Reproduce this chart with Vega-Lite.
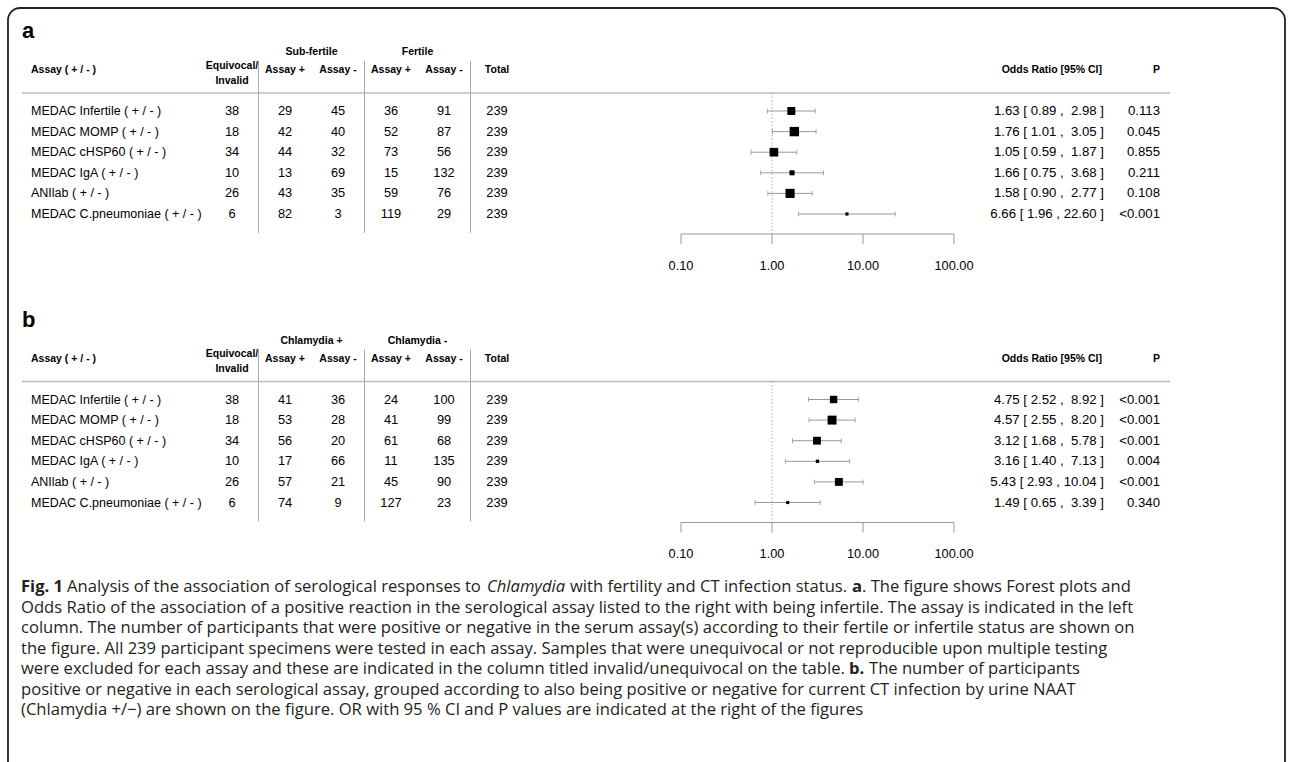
{
  "$schema": "https://vega.github.io/schema/vega-lite/v6.json",
  "width": 1277,
  "height": 770,
  "autosize": {"type": "none"},
  "padding": {"left": 8, "top": 8, "right": 7, "bottom": 0},
  "background": "white",
  "config": {
    "view": {"stroke": "#222222", "strokeWidth": 1.8, "cornerRadius": 12},
    "axis": {"disable": true},
    "legend": {"disable": true},
    "text": {"font": "Liberation Sans", "fontSize": 12.8, "color": "#000000"}
  },
  "resolve": {"scale": {"x": "independent", "y": "independent", "size": "independent"}},
  "datasets": {
    "tab": [
      {"panel": "a", "row": 1, "assay": "MEDAC Infertile ( + / - )", "equiv": 38, "sp": 29, "sn": 45, "fp": 36, "fn": 91, "total": 239, "or": 1.63, "lo": 0.89, "hi": 2.98, "w": 10.5, "ci": "1.63 [ 0.89 , \u00a02.98 ]", "p": "0.113"},
      {"panel": "a", "row": 2, "assay": "MEDAC MOMP ( + / - )", "equiv": 18, "sp": 42, "sn": 40, "fp": 52, "fn": 87, "total": 239, "or": 1.76, "lo": 1.01, "hi": 3.05, "w": 12.6, "ci": "1.76 [ 1.01 , \u00a03.05 ]", "p": "0.045"},
      {"panel": "a", "row": 3, "assay": "MEDAC cHSP60 ( + / - )", "equiv": 34, "sp": 44, "sn": 32, "fp": 73, "fn": 56, "total": 239, "or": 1.05, "lo": 0.59, "hi": 1.87, "w": 11.5, "ci": "1.05 [ 0.59 , \u00a01.87 ]", "p": "0.855"},
      {"panel": "a", "row": 4, "assay": "MEDAC IgA ( + / - )", "equiv": 10, "sp": 13, "sn": 69, "fp": 15, "fn": 132, "total": 239, "or": 1.66, "lo": 0.75, "hi": 3.68, "w": 6.07, "ci": "1.66 [ 0.75 , \u00a03.68 ]", "p": "0.211"},
      {"panel": "a", "row": 5, "assay": "ANIlab ( + / - )", "equiv": 26, "sp": 43, "sn": 35, "fp": 59, "fn": 76, "total": 239, "or": 1.58, "lo": 0.90, "hi": 2.77, "w": 12.2, "ci": "1.58 [ 0.90 , \u00a02.77 ]", "p": "0.108"},
      {"panel": "a", "row": 6, "assay": "MEDAC C.pneumoniae ( + / - )", "equiv": 6, "sp": 82, "sn": 3, "fp": 119, "fn": 29, "total": 239, "or": 6.66, "lo": 1.96, "hi": 22.60, "w": 2.57, "ci": "6.66 [ 1.96 , 22.60 ]", "p": "<0.001"},
      {"panel": "b", "row": 1, "assay": "MEDAC Infertile ( + / - )", "equiv": 38, "sp": 41, "sn": 36, "fp": 24, "fn": 100, "total": 239, "or": 4.75, "lo": 2.52, "hi": 8.92, "w": 9.62, "ci": "4.75 [ 2.52 , \u00a08.92 ]", "p": "<0.001"},
      {"panel": "b", "row": 2, "assay": "MEDAC MOMP ( + / - )", "equiv": 18, "sp": 53, "sn": 28, "fp": 41, "fn": 99, "total": 239, "or": 4.57, "lo": 2.55, "hi": 8.20, "w": 11.26, "ci": "4.57 [ 2.55 , \u00a08.20 ]", "p": "<0.001"},
      {"panel": "b", "row": 3, "assay": "MEDAC cHSP60 ( + / - )", "equiv": 34, "sp": 56, "sn": 20, "fp": 61, "fn": 68, "total": 239, "or": 3.12, "lo": 1.68, "hi": 5.78, "w": 10.07, "ci": "3.12 [ 1.68 , \u00a05.78 ]", "p": "<0.001"},
      {"panel": "b", "row": 4, "assay": "MEDAC IgA ( + / - )", "equiv": 10, "sp": 17, "sn": 66, "fp": 11, "fn": 135, "total": 239, "or": 3.16, "lo": 1.40, "hi": 7.13, "w": 5.80, "ci": "3.16 [ 1.40 , \u00a07.13 ]", "p": "0.004"},
      {"panel": "b", "row": 5, "assay": "ANIlab ( + / - )", "equiv": 26, "sp": 57, "sn": 21, "fp": 45, "fn": 90, "total": 239, "or": 5.43, "lo": 2.93, "hi": 10.04, "w": 10.14, "ci": "5.43 [ 2.93 , 10.04 ]", "p": "<0.001"},
      {"panel": "b", "row": 6, "assay": "MEDAC C.pneumoniae ( + / - )", "equiv": 6, "sp": 74, "sn": 9, "fp": 127, "fn": 23, "total": 239, "or": 1.49, "lo": 0.65, "hi": 3.39, "w": 5.63, "ci": "1.49 [ 0.65 , \u00a03.39 ]", "p": "0.340"}
    ],
    "panels": [{"panel": "a"}, {"panel": "b"}],
    "groups": [
      {"panel": "a", "key": "g1", "label": "Sub-fertile"},
      {"panel": "a", "key": "g2", "label": "Fertile"},
      {"panel": "b", "key": "g1", "label": "Chlamydia +"},
      {"panel": "b", "key": "g2", "label": "Chlamydia -"}
    ],
    "cols": [
      {"key": "sp", "label": "Assay +"},
      {"key": "sn", "label": "Assay -"},
      {"key": "fp", "label": "Assay +"},
      {"key": "fn", "label": "Assay -"},
      {"key": "total", "label": "Total"}
    ],
    "seps": [{"key": "sp"}, {"key": "fp"}, {"key": "total"}],
    "right": [{"key": "ci", "label": "Odds Ratio [95% CI]"}, {"key": "p", "label": "P"}],
    "ticks": [{"t": 0.1}, {"t": 1}, {"t": 10}, {"t": 100}],
    "caption": [
      {"line": 1, "seg": 0, "style": "bold", "text": "Fig. 1"},
      {"line": 1, "seg": 1, "style": "regular", "text": "Analysis of the association of serological responses to"},
      {"line": 1, "seg": 2, "style": "italic", "text": "Chlamydia"},
      {"line": 1, "seg": 3, "style": "regular", "text": "with fertility and CT infection status."},
      {"line": 1, "seg": 4, "style": "bold", "text": "a"},
      {"line": 1, "seg": 5, "style": "regular", "text": ". The figure shows Forest plots and"},
      {"line": 2, "seg": 0, "style": "regular", "text": "Odds Ratio of the association of a positive reaction in the serological assay listed to the right with being infertile. The assay is indicated in the left"},
      {"line": 3, "seg": 0, "style": "regular", "text": "column. The number of participants that were positive or negative in the serum assay(s) according to their fertile or infertile status are shown on"},
      {"line": 4, "seg": 0, "style": "regular", "text": "the figure. All 239 participant specimens were tested in each assay. Samples that were unequivocal or not reproducible upon multiple testing"},
      {"line": 5, "seg": 0, "style": "regular", "text": "were excluded for each assay and these are indicated in the column titled invalid/unequivocal on the table."},
      {"line": 5, "seg": 6, "style": "bold", "text": "b."},
      {"line": 5, "seg": 7, "style": "regular", "text": "The number of participants"},
      {"line": 6, "seg": 0, "style": "regular", "text": "positive or negative in each serological assay, grouped according to also being positive or negative for current CT infection by urine NAAT"},
      {"line": 7, "seg": 0, "style": "regular", "text": "(Chlamydia +/\u2212) are shown on the figure. OR with 95 % CI and P values are indicated at the right of the figures"}
    ]
  },
  "layer": [
    {"data": {"name": "panels"}, "transform": [{"filter": "datum.panel == 'a'"}],
     "mark": {"type": "text", "fontWeight": "bold", "fontSize": 22, "align": "left", "baseline": "alphabetic"},
     "encoding": {"x": {"datum": 0, "type": "quantitative", "scale": {"type": "linear", "domain": [0, 1, 2], "range": [14, 23, 1162], "nice": false, "zero": false}},
       "y": {"datum": -2.53, "type": "quantitative", "scale": {"domain": [1, 6], "range": [103, 206], "nice": false, "zero": false}},
       "text": {"field": "panel"}}},
    {"data": {"name": "groups"}, "transform": [{"filter": "datum.panel == 'a'"}],
     "mark": {"type": "text", "fontWeight": "bold", "fontSize": 10.5, "align": "center", "baseline": "middle"},
     "encoding": {"x": {"field": "key", "type": "nominal", "scale": {"type": "point", "domain": ["g1", "g2"], "range": [303.5, 409.5], "padding": 0}},
       "y": {"datum": -1.864, "type": "quantitative", "scale": {"domain": [1, 6], "range": [103, 206], "nice": false, "zero": false}},
       "text": {"field": "label"}}},
    {"data": {"name": "cols"},
     "mark": {"type": "text", "fontWeight": "bold", "fontSize": 10.5, "align": "center", "baseline": "middle"},
     "encoding": {"x": {"field": "key", "type": "nominal", "bandPosition": 0.5, "scale": {"type": "band", "domain": ["equiv", "sp", "sn", "fp", "fn", "total"], "range": [197.5, 515.5], "paddingInner": 0, "paddingOuter": 0}},
       "y": {"datum": -0.99, "type": "quantitative", "scale": {"domain": [1, 6], "range": [103, 206], "nice": false, "zero": false}},
       "text": {"field": "label"}}},
    {"data": {"name": "panels"}, "transform": [{"filter": "datum.panel == 'a'"}],
     "mark": {"type": "text", "fontWeight": "bold", "fontSize": 10.5, "align": "center", "baseline": "alphabetic", "lineHeight": 15},
     "encoding": {"x": {"datum": "equiv", "type": "nominal", "bandPosition": 0.5, "scale": {"type": "band", "domain": ["equiv", "sp", "sn", "fp", "fn", "total"], "range": [197.5, 515.5], "paddingInner": 0, "paddingOuter": 0}},
       "y": {"datum": -1.05, "type": "quantitative", "scale": {"domain": [1, 6], "range": [103, 206], "nice": false, "zero": false}},
       "text": {"value": ["Equivocal/", "Invalid"]}}},
    {"data": {"name": "panels"}, "transform": [{"filter": "datum.panel == 'a'"}],
     "mark": {"type": "text", "fontWeight": "bold", "fontSize": 10.5, "align": "left", "baseline": "middle"},
     "encoding": {"x": {"datum": 1, "type": "quantitative", "scale": {"type": "linear", "domain": [0, 1, 2], "range": [14, 23, 1162], "nice": false, "zero": false}},
       "y": {"datum": -0.99, "type": "quantitative", "scale": {"domain": [1, 6], "range": [103, 206], "nice": false, "zero": false}},
       "text": {"value": "Assay ( + / - )"}}},
    {"data": {"name": "right"},
     "mark": {"type": "text", "fontWeight": "bold", "fontSize": 10.5, "align": "right", "baseline": "middle"},
     "encoding": {"x": {"field": "key", "type": "nominal", "scale": {"type": "point", "domain": ["ci", "p"], "range": [1094, 1152], "padding": 0}},
       "y": {"datum": -0.99, "type": "quantitative", "scale": {"domain": [1, 6], "range": [103, 206], "nice": false, "zero": false}},
       "text": {"field": "label"}}},
    {"data": {"name": "panels"}, "transform": [{"filter": "datum.panel == 'a'"}],
     "mark": {"type": "rule", "color": "#bbbbbb", "strokeWidth": 1.5},
     "encoding": {"x": {"datum": 0, "type": "quantitative", "scale": {"type": "linear", "domain": [0, 1, 2], "range": [14, 23, 1162], "nice": false, "zero": false}},
       "x2": {"datum": 2},
       "y": {"datum": 0.126, "type": "quantitative", "scale": {"domain": [1, 6], "range": [103, 206], "nice": false, "zero": false}}}},
    {"data": {"name": "seps"},
     "mark": {"type": "rule", "color": "#aaaaaa", "strokeWidth": 1},
     "encoding": {"x": {"field": "key", "type": "nominal", "bandPosition": 0, "scale": {"type": "band", "domain": ["equiv", "sp", "sn", "fp", "fn", "total"], "range": [197.5, 515.5], "paddingInner": 0, "paddingOuter": 0}},
       "y": {"datum": -1.43, "type": "quantitative", "scale": {"domain": [1, 6], "range": [103, 206], "nice": false, "zero": false}},
       "y2": {"datum": 6.92}}},
    {"data": {"name": "tab"}, "transform": [{"filter": "datum.panel == 'a'"}],
     "mark": {"type": "text", "align": "left", "baseline": "middle", "fontSize": 12.5},
     "encoding": {"x": {"datum": 1, "type": "quantitative", "scale": {"type": "linear", "domain": [0, 1, 2], "range": [14, 23, 1162], "nice": false, "zero": false}},
       "y": {"field": "row", "type": "quantitative", "scale": {"domain": [1, 6], "range": [103, 206], "nice": false, "zero": false}},
       "text": {"field": "assay"}}},
    {"data": {"name": "tab"}, "transform": [{"filter": "datum.panel == 'a'"}, {"fold": ["equiv", "sp", "sn", "fp", "fn", "total"]}],
     "mark": {"type": "text", "align": "center", "baseline": "middle"},
     "encoding": {"x": {"field": "key", "type": "nominal", "bandPosition": 0.5, "scale": {"type": "band", "domain": ["equiv", "sp", "sn", "fp", "fn", "total"], "range": [197.5, 515.5], "paddingInner": 0, "paddingOuter": 0}},
       "y": {"field": "row", "type": "quantitative", "scale": {"domain": [1, 6], "range": [103, 206], "nice": false, "zero": false}},
       "text": {"field": "value", "type": "nominal"}}},
    {"data": {"name": "tab"}, "transform": [{"filter": "datum.panel == 'a'"}, {"fold": ["ci", "p"]}],
     "mark": {"type": "text", "align": "right", "baseline": "middle", "fontSize": 13.2},
     "encoding": {"x": {"field": "key", "type": "nominal", "scale": {"type": "point", "domain": ["ci", "p"], "range": [1096, 1152], "padding": 0}},
       "y": {"field": "row", "type": "quantitative", "scale": {"domain": [1, 6], "range": [103, 206], "nice": false, "zero": false}},
       "text": {"field": "value", "type": "nominal"}}},
    {"data": {"name": "panels"}, "transform": [{"filter": "datum.panel == 'a'"}],
     "mark": {"type": "rule", "color": "#aaaaaa", "strokeWidth": 1, "strokeDash": [1.5, 2]},
     "encoding": {"x": {"datum": 1, "type": "quantitative", "scale": {"type": "log", "domain": [0.1, 100], "range": [673, 946], "nice": false}},
       "y": {"datum": 0.126, "type": "quantitative", "scale": {"domain": [1, 6], "range": [103, 206], "nice": false, "zero": false}},
       "y2": {"datum": 6.97}}},
    {"data": {"name": "tab"}, "transform": [{"filter": "datum.panel == 'a'"}],
     "mark": {"type": "rule", "color": "#999999", "strokeWidth": 1},
     "encoding": {"x": {"field": "lo", "type": "quantitative", "scale": {"type": "log", "domain": [0.1, 100], "range": [673, 946], "nice": false}},
       "x2": {"field": "hi"},
       "y": {"field": "row", "type": "quantitative", "scale": {"domain": [1, 6], "range": [103, 206], "nice": false, "zero": false}}}},
    {"data": {"name": "tab"}, "transform": [{"filter": "datum.panel == 'a'"}, {"fold": ["lo", "hi"], "as": ["end", "xv"]}],
     "mark": {"type": "tick", "orient": "vertical", "color": "#888888", "size": 5, "thickness": 1},
     "encoding": {"x": {"field": "xv", "type": "quantitative", "scale": {"type": "log", "domain": [0.1, 100], "range": [673, 946], "nice": false}},
       "y": {"field": "row", "type": "quantitative", "scale": {"domain": [1, 6], "range": [103, 206], "nice": false, "zero": false}}}},
    {"data": {"name": "tab"}, "transform": [{"filter": "datum.panel == 'a'"}],
     "mark": {"type": "point", "shape": "square", "filled": true, "color": "#000000", "opacity": 1},
     "encoding": {"x": {"field": "or", "type": "quantitative", "scale": {"type": "log", "domain": [0.1, 100], "range": [673, 946], "nice": false}},
       "y": {"field": "row", "type": "quantitative", "scale": {"domain": [1, 6], "range": [103, 206], "nice": false, "zero": false}},
       "size": {"field": "w", "type": "quantitative", "scale": {"type": "pow", "exponent": 2, "zero": false, "domain": [2.57, 12.6], "range": [10, 88]}}}},
    {"data": {"name": "panels"}, "transform": [{"filter": "datum.panel == 'a'"}],
     "mark": {"type": "rule", "color": "#999999", "strokeWidth": 1},
     "encoding": {"x": {"datum": 0.1, "type": "quantitative", "scale": {"type": "log", "domain": [0.1, 100], "range": [673, 946], "nice": false}},
       "x2": {"datum": 100},
       "y": {"datum": 6.97, "type": "quantitative", "scale": {"domain": [1, 6], "range": [103, 206], "nice": false, "zero": false}}}},
    {"data": {"name": "ticks"},
     "mark": {"type": "rule", "color": "#999999", "strokeWidth": 1},
     "encoding": {"x": {"field": "t", "type": "quantitative", "scale": {"type": "log", "domain": [0.1, 100], "range": [673, 946], "nice": false}},
       "y": {"datum": 6.97, "type": "quantitative", "scale": {"domain": [1, 6], "range": [103, 206], "nice": false, "zero": false}},
       "y2": {"datum": 7.46}}},
    {"data": {"name": "ticks"},
     "mark": {"type": "text", "align": "center", "baseline": "middle"},
     "encoding": {"x": {"field": "t", "type": "quantitative", "scale": {"type": "log", "domain": [0.1, 100], "range": [673, 946], "nice": false}},
       "y": {"datum": 8.52, "type": "quantitative", "scale": {"domain": [1, 6], "range": [103, 206], "nice": false, "zero": false}},
       "text": {"field": "t", "type": "quantitative", "format": ".2f"}}},

    {"data": {"name": "panels"}, "transform": [{"filter": "datum.panel == 'b'"}],
     "mark": {"type": "text", "fontWeight": "bold", "fontSize": 22, "align": "left", "baseline": "alphabetic"},
     "encoding": {"x": {"datum": 0, "type": "quantitative", "scale": {"type": "linear", "domain": [0, 1, 2], "range": [14, 23, 1162], "nice": false, "zero": false}},
       "y": {"datum": -2.53, "type": "quantitative", "scale": {"domain": [1, 6], "range": [391.5, 494.5], "nice": false, "zero": false}},
       "text": {"field": "panel"}}},
    {"data": {"name": "groups"}, "transform": [{"filter": "datum.panel == 'b'"}],
     "mark": {"type": "text", "fontWeight": "bold", "fontSize": 10.5, "align": "center", "baseline": "middle"},
     "encoding": {"x": {"field": "key", "type": "nominal", "scale": {"type": "point", "domain": ["g1", "g2"], "range": [303.5, 409.5], "padding": 0}},
       "y": {"datum": -1.864, "type": "quantitative", "scale": {"domain": [1, 6], "range": [391.5, 494.5], "nice": false, "zero": false}},
       "text": {"field": "label"}}},
    {"data": {"name": "cols"},
     "mark": {"type": "text", "fontWeight": "bold", "fontSize": 10.5, "align": "center", "baseline": "middle"},
     "encoding": {"x": {"field": "key", "type": "nominal", "bandPosition": 0.5, "scale": {"type": "band", "domain": ["equiv", "sp", "sn", "fp", "fn", "total"], "range": [197.5, 515.5], "paddingInner": 0, "paddingOuter": 0}},
       "y": {"datum": -0.99, "type": "quantitative", "scale": {"domain": [1, 6], "range": [391.5, 494.5], "nice": false, "zero": false}},
       "text": {"field": "label"}}},
    {"data": {"name": "panels"}, "transform": [{"filter": "datum.panel == 'b'"}],
     "mark": {"type": "text", "fontWeight": "bold", "fontSize": 10.5, "align": "center", "baseline": "alphabetic", "lineHeight": 15},
     "encoding": {"x": {"datum": "equiv", "type": "nominal", "bandPosition": 0.5, "scale": {"type": "band", "domain": ["equiv", "sp", "sn", "fp", "fn", "total"], "range": [197.5, 515.5], "paddingInner": 0, "paddingOuter": 0}},
       "y": {"datum": -1.05, "type": "quantitative", "scale": {"domain": [1, 6], "range": [391.5, 494.5], "nice": false, "zero": false}},
       "text": {"value": ["Equivocal/", "Invalid"]}}},
    {"data": {"name": "panels"}, "transform": [{"filter": "datum.panel == 'b'"}],
     "mark": {"type": "text", "fontWeight": "bold", "fontSize": 10.5, "align": "left", "baseline": "middle"},
     "encoding": {"x": {"datum": 1, "type": "quantitative", "scale": {"type": "linear", "domain": [0, 1, 2], "range": [14, 23, 1162], "nice": false, "zero": false}},
       "y": {"datum": -0.99, "type": "quantitative", "scale": {"domain": [1, 6], "range": [391.5, 494.5], "nice": false, "zero": false}},
       "text": {"value": "Assay ( + / - )"}}},
    {"data": {"name": "right"},
     "mark": {"type": "text", "fontWeight": "bold", "fontSize": 10.5, "align": "right", "baseline": "middle"},
     "encoding": {"x": {"field": "key", "type": "nominal", "scale": {"type": "point", "domain": ["ci", "p"], "range": [1094, 1152], "padding": 0}},
       "y": {"datum": -0.99, "type": "quantitative", "scale": {"domain": [1, 6], "range": [391.5, 494.5], "nice": false, "zero": false}},
       "text": {"field": "label"}}},
    {"data": {"name": "panels"}, "transform": [{"filter": "datum.panel == 'b'"}],
     "mark": {"type": "rule", "color": "#bbbbbb", "strokeWidth": 1.5},
     "encoding": {"x": {"datum": 0, "type": "quantitative", "scale": {"type": "linear", "domain": [0, 1, 2], "range": [14, 23, 1162], "nice": false, "zero": false}},
       "x2": {"datum": 2},
       "y": {"datum": 0.126, "type": "quantitative", "scale": {"domain": [1, 6], "range": [391.5, 494.5], "nice": false, "zero": false}}}},
    {"data": {"name": "seps"},
     "mark": {"type": "rule", "color": "#aaaaaa", "strokeWidth": 1},
     "encoding": {"x": {"field": "key", "type": "nominal", "bandPosition": 0, "scale": {"type": "band", "domain": ["equiv", "sp", "sn", "fp", "fn", "total"], "range": [197.5, 515.5], "paddingInner": 0, "paddingOuter": 0}},
       "y": {"datum": -1.43, "type": "quantitative", "scale": {"domain": [1, 6], "range": [391.5, 494.5], "nice": false, "zero": false}},
       "y2": {"datum": 6.92}}},
    {"data": {"name": "tab"}, "transform": [{"filter": "datum.panel == 'b'"}],
     "mark": {"type": "text", "align": "left", "baseline": "middle", "fontSize": 12.5},
     "encoding": {"x": {"datum": 1, "type": "quantitative", "scale": {"type": "linear", "domain": [0, 1, 2], "range": [14, 23, 1162], "nice": false, "zero": false}},
       "y": {"field": "row", "type": "quantitative", "scale": {"domain": [1, 6], "range": [391.5, 494.5], "nice": false, "zero": false}},
       "text": {"field": "assay"}}},
    {"data": {"name": "tab"}, "transform": [{"filter": "datum.panel == 'b'"}, {"fold": ["equiv", "sp", "sn", "fp", "fn", "total"]}],
     "mark": {"type": "text", "align": "center", "baseline": "middle"},
     "encoding": {"x": {"field": "key", "type": "nominal", "bandPosition": 0.5, "scale": {"type": "band", "domain": ["equiv", "sp", "sn", "fp", "fn", "total"], "range": [197.5, 515.5], "paddingInner": 0, "paddingOuter": 0}},
       "y": {"field": "row", "type": "quantitative", "scale": {"domain": [1, 6], "range": [391.5, 494.5], "nice": false, "zero": false}},
       "text": {"field": "value", "type": "nominal"}}},
    {"data": {"name": "tab"}, "transform": [{"filter": "datum.panel == 'b'"}, {"fold": ["ci", "p"]}],
     "mark": {"type": "text", "align": "right", "baseline": "middle", "fontSize": 13.2},
     "encoding": {"x": {"field": "key", "type": "nominal", "scale": {"type": "point", "domain": ["ci", "p"], "range": [1096, 1152], "padding": 0}},
       "y": {"field": "row", "type": "quantitative", "scale": {"domain": [1, 6], "range": [391.5, 494.5], "nice": false, "zero": false}},
       "text": {"field": "value", "type": "nominal"}}},
    {"data": {"name": "panels"}, "transform": [{"filter": "datum.panel == 'b'"}],
     "mark": {"type": "rule", "color": "#aaaaaa", "strokeWidth": 1, "strokeDash": [1.5, 2]},
     "encoding": {"x": {"datum": 1, "type": "quantitative", "scale": {"type": "log", "domain": [0.1, 100], "range": [673, 946], "nice": false}},
       "y": {"datum": 0.126, "type": "quantitative", "scale": {"domain": [1, 6], "range": [391.5, 494.5], "nice": false, "zero": false}},
       "y2": {"datum": 6.97}}},
    {"data": {"name": "tab"}, "transform": [{"filter": "datum.panel == 'b'"}],
     "mark": {"type": "rule", "color": "#999999", "strokeWidth": 1},
     "encoding": {"x": {"field": "lo", "type": "quantitative", "scale": {"type": "log", "domain": [0.1, 100], "range": [673, 946], "nice": false}},
       "x2": {"field": "hi"},
       "y": {"field": "row", "type": "quantitative", "scale": {"domain": [1, 6], "range": [391.5, 494.5], "nice": false, "zero": false}}}},
    {"data": {"name": "tab"}, "transform": [{"filter": "datum.panel == 'b'"}, {"fold": ["lo", "hi"], "as": ["end", "xv"]}],
     "mark": {"type": "tick", "orient": "vertical", "color": "#888888", "size": 5, "thickness": 1},
     "encoding": {"x": {"field": "xv", "type": "quantitative", "scale": {"type": "log", "domain": [0.1, 100], "range": [673, 946], "nice": false}},
       "y": {"field": "row", "type": "quantitative", "scale": {"domain": [1, 6], "range": [391.5, 494.5], "nice": false, "zero": false}}}},
    {"data": {"name": "tab"}, "transform": [{"filter": "datum.panel == 'b'"}],
     "mark": {"type": "point", "shape": "square", "filled": true, "color": "#000000", "opacity": 1},
     "encoding": {"x": {"field": "or", "type": "quantitative", "scale": {"type": "log", "domain": [0.1, 100], "range": [673, 946], "nice": false}},
       "y": {"field": "row", "type": "quantitative", "scale": {"domain": [1, 6], "range": [391.5, 494.5], "nice": false, "zero": false}},
       "size": {"field": "w", "type": "quantitative", "scale": {"type": "pow", "exponent": 2, "zero": false, "domain": [5.63, 11.26], "range": [10, 80]}}}},
    {"data": {"name": "panels"}, "transform": [{"filter": "datum.panel == 'b'"}],
     "mark": {"type": "rule", "color": "#999999", "strokeWidth": 1},
     "encoding": {"x": {"datum": 0.1, "type": "quantitative", "scale": {"type": "log", "domain": [0.1, 100], "range": [673, 946], "nice": false}},
       "x2": {"datum": 100},
       "y": {"datum": 6.97, "type": "quantitative", "scale": {"domain": [1, 6], "range": [391.5, 494.5], "nice": false, "zero": false}}}},
    {"data": {"name": "ticks"},
     "mark": {"type": "rule", "color": "#999999", "strokeWidth": 1},
     "encoding": {"x": {"field": "t", "type": "quantitative", "scale": {"type": "log", "domain": [0.1, 100], "range": [673, 946], "nice": false}},
       "y": {"datum": 6.97, "type": "quantitative", "scale": {"domain": [1, 6], "range": [391.5, 494.5], "nice": false, "zero": false}},
       "y2": {"datum": 7.46}}},
    {"data": {"name": "ticks"},
     "mark": {"type": "text", "align": "center", "baseline": "middle"},
     "encoding": {"x": {"field": "t", "type": "quantitative", "scale": {"type": "log", "domain": [0.1, 100], "range": [673, 946], "nice": false}},
       "y": {"datum": 8.52, "type": "quantitative", "scale": {"domain": [1, 6], "range": [391.5, 494.5], "nice": false, "zero": false}},
       "text": {"field": "t", "type": "quantitative", "format": ".2f"}}},

    {"data": {"name": "caption"}, "transform": [{"filter": "datum.style == 'regular'"}],
     "mark": {"type": "text", "font": "Open Sans", "fontSize": 16.6, "color": "#231f20", "align": "left", "baseline": "middle"},
     "encoding": {"x": {"field": "seg", "type": "quantitative", "scale": {"type": "linear", "domain": [0, 1, 2, 3, 4, 5, 6, 7], "range": [13, 59, 479, 562, 844, 854, 841, 861], "nice": false, "zero": false}},
       "y": {"field": "line", "type": "quantitative", "scale": {"domain": [1, 7], "range": [579, 702], "nice": false, "zero": false}},
       "text": {"field": "text"}}},
    {"data": {"name": "caption"}, "transform": [{"filter": "datum.style == 'bold'"}],
     "mark": {"type": "text", "font": "Open Sans", "fontSize": 16.6, "fontWeight": "bold", "color": "#231f20", "align": "left", "baseline": "middle"},
     "encoding": {"x": {"field": "seg", "type": "quantitative", "scale": {"type": "linear", "domain": [0, 1, 2, 3, 4, 5, 6, 7], "range": [13, 59, 479, 562, 844, 854, 841, 861], "nice": false, "zero": false}},
       "y": {"field": "line", "type": "quantitative", "scale": {"domain": [1, 7], "range": [579, 702], "nice": false, "zero": false}},
       "text": {"field": "text"}}},
    {"data": {"name": "caption"}, "transform": [{"filter": "datum.style == 'italic'"}],
     "mark": {"type": "text", "font": "Open Sans", "fontSize": 16.6, "fontStyle": "italic", "color": "#231f20", "align": "left", "baseline": "middle"},
     "encoding": {"x": {"field": "seg", "type": "quantitative", "scale": {"type": "linear", "domain": [0, 1, 2, 3, 4, 5, 6, 7], "range": [13, 59, 479, 562, 844, 854, 841, 861], "nice": false, "zero": false}},
       "y": {"field": "line", "type": "quantitative", "scale": {"domain": [1, 7], "range": [579, 702], "nice": false, "zero": false}},
       "text": {"field": "text"}}}
  ]
}
